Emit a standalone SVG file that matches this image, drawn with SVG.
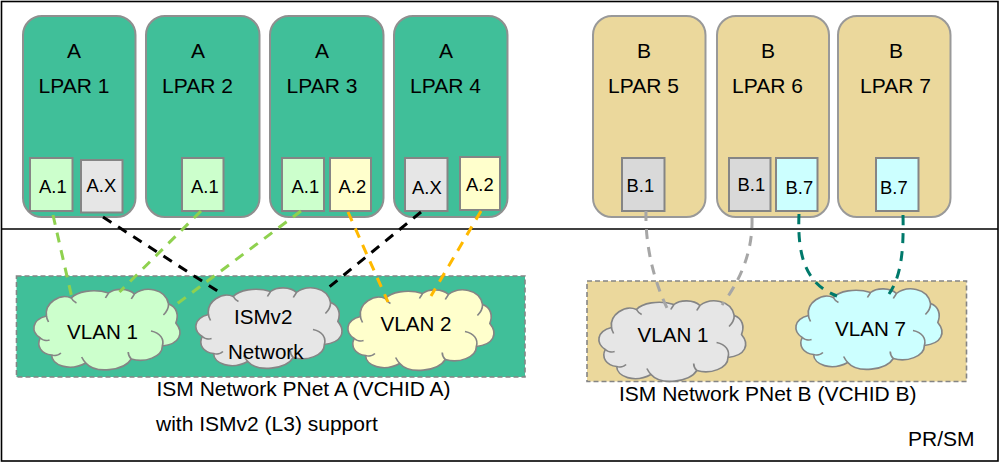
<svg xmlns="http://www.w3.org/2000/svg" xmlns:xlink="http://www.w3.org/1999/xlink" width="1002" height="464" viewBox="0 0 1002 464">
<style>
text{font-family:"Liberation Sans",Arial,sans-serif;fill:#000}
.lbl{font-size:21px}
.vl{font-size:20.6px}
.port{font-size:18.4px}
.cap{font-size:21px}
.lpA{fill:#40BF99;stroke:#8f8f8f;stroke-width:2}
.lpB{fill:#EBD89C;stroke:#999;stroke-width:2}
.pr{stroke:#858585;stroke-width:2}
.band{stroke:#858585;stroke-width:1.6;stroke-dasharray:5 3}
.cl{stroke:#858585;stroke-width:1.6;stroke-linejoin:round}
.in{fill:none}
.c{fill:none;stroke-width:3;stroke-dasharray:10 8}
</style>
<defs>
<g id="cloud">
<path d="M13,29 C11,16 26,6 37,11 C42,5 58,1 73,6 C79,1 92,1 98,7 C108,-1 128,1 131,17 C139,20 141,28 138,36 C146,46 142,57 125,59 C125,70 108,76 95,72 C88,84 60,87 51,76 C35,85 18,78 18,68 C8,67 3,59 7,51 C-2,45 -2,33 13,29 Z"/>
<path class="in" d="M125,59 C127,52 123,46 114,44 M95,72 C93,70 92,68 92,65 M51,76 C49,74 48,72 47,70 M18,68 C21,69 25,68 27,66 M7,51 C9,53 13,54 16,53 M13,29 C13,31 14,33 15,35 M37,11 C38,13 40,15 42,16 M73,6 C72,8 71,9 70,11 M98,7 C97,9 96,10 95,12 M131,17 C131,21 129,25 126,28"/>
</g>
</defs>
<rect width="1002" height="464" fill="#fff"/>
<g id="frame" fill="none" stroke="#000" stroke-width="1.6">
<rect x="1.5" y="1.5" width="996.500" height="459.500"/>
<path d="M1.5,229H998"/>
</g>
<g id="pnet-a"><rect class="band" x="16.500" y="276" width="508.500" height="101" fill="#40BF99"/></g>
<g id="pnet-b"><rect class="band" x="587" y="281" width="379.500" height="100.500" fill="#EBD89C"/></g>
<g id="lpar1"><rect class="lpA" x="23" y="16" width="112.500" height="201" rx="19"/><text class="lbl" x="67" y="57.500">A</text><text class="lbl" x="38.500" y="92.500">LPAR 1</text>
<rect class="pr" x="30" y="158" width="42.500" height="53" fill="#CCFFCC"/><text class="port" x="39" y="192.500">A.1</text>
<rect class="pr" x="81" y="160" width="41.500" height="52.500" fill="#E6E6E6"/><text class="port" x="86.500" y="191.500">A.X</text></g>
<g id="lpar2"><rect class="lpA" x="146" y="16" width="113.500" height="201" rx="19"/><text class="lbl" x="191" y="57.500">A</text><text class="lbl" x="162" y="92.500">LPAR 2</text>
<rect class="pr" x="182" y="158" width="41.500" height="53" fill="#CCFFCC"/><text class="port" x="191" y="192.500">A.1</text></g>
<g id="lpar3"><rect class="lpA" x="270" y="16" width="113.500" height="201" rx="19"/><text class="lbl" x="315" y="57.500">A</text><text class="lbl" x="286.500" y="92.500">LPAR 3</text>
<rect class="pr" x="282" y="158" width="42" height="53" fill="#CCFFCC"/><text class="port" x="291.500" y="193">A.1</text>
<rect class="pr" x="330" y="158" width="41" height="53" fill="#FFFFCC"/><text class="port" x="338.500" y="193">A.2</text></g>
<g id="lpar4"><rect class="lpA" x="394" y="16" width="113.500" height="201" rx="19"/><text class="lbl" x="439" y="57.500">A</text><text class="lbl" x="410" y="92.500">LPAR 4</text>
<rect class="pr" x="405" y="158" width="42.500" height="53" fill="#E6E6E6"/><text class="port" x="412" y="193.500">A.X</text>
<rect class="pr" x="460" y="157" width="40" height="53" fill="#FFFFCC"/><text class="port" x="466" y="191">A.2</text></g>
<g id="lpar5"><rect class="lpB" x="593" y="16" width="112.500" height="201" rx="19"/><text class="lbl" x="637" y="57.500">B</text><text class="lbl" x="608" y="92.500">LPAR 5</text>
<rect class="pr" x="622" y="158" width="42.500" height="53" fill="#D9D9D9"/><text class="port" x="626.500" y="191.500">B.1</text></g>
<g id="lpar6"><rect class="lpB" x="717" y="16" width="112" height="201" rx="19"/><text class="lbl" x="761" y="57.500">B</text><text class="lbl" x="732" y="92.500">LPAR 6</text>
<rect class="pr" x="729" y="158" width="41.500" height="53" fill="#D9D9D9"/><text class="port" x="737.500" y="191">B.1</text>
<rect class="pr" x="776" y="158" width="41.500" height="53" fill="#CCFFFF"/><text class="port" x="785.500" y="193.500">B.7</text></g>
<g id="lpar7"><rect class="lpB" x="838" y="16" width="112.500" height="201" rx="19"/><text class="lbl" x="889" y="57.500">B</text><text class="lbl" x="860" y="92.500">LPAR 7</text>
<rect class="pr" x="876" y="158" width="42.500" height="53" fill="#CCFFFF"/><text class="port" x="880" y="193.500">B.7</text></g>
<g id="a-vlan1"><use href="#cloud" class="cl" fill="#CCFFCC" transform="translate(33,287) scale(1.035,1)"/><text class="vl" x="67" y="339">VLAN 1</text></g>
<g id="a-ism"><use href="#cloud" class="cl" fill="#E6E6E6" transform="translate(195,285.500) scale(1.035,1)"/><text class="vl" x="234" y="323.500">ISMv2</text><text class="vl" x="228" y="359">Network</text></g>
<g id="a-vlan2"><use href="#cloud" class="cl" fill="#FFFFCC" transform="translate(347,287.500) scale(1.035,1)"/><text class="vl" x="380.500" y="330.500">VLAN 2</text></g>
<g id="b-vlan1"><use href="#cloud" class="cl" fill="#E6E6E6" transform="translate(598,298.500) scale(1.04,1)"/><text class="vl" x="637.500" y="341.500">VLAN 1</text></g>
<g id="b-vlan7"><use href="#cloud" class="cl" fill="#CCFFFF" transform="translate(795,286.500) scale(1.035,1)"/><text class="vl" x="835" y="335.500">VLAN 7</text></g>
<g id="connectors">
<path class="c" stroke="#8FD14F" d="M53,215L71.500,296"/>
<path class="c" stroke="#000" d="M103,217L219,292"/>
<path class="c" stroke="#8FD14F" d="M201,211L119.500,292"/>
<path class="c" stroke="#8FD14F" d="M301,211L175.500,305"/>
<path class="c" stroke="#FFB900" d="M348,212L388,302"/>
<path class="c" stroke="#000" d="M421,212L328,288"/>
<path class="c" stroke="#FFB900" d="M481,211L431,296"/>
<path class="c" stroke="#A6A6A6" d="M646,211C645,250 656,285 667,308"/>
<path class="c" stroke="#A6A6A6" d="M752,218C753,255 738,283 722,305"/>
<path class="c" stroke="#00796B" d="M799,214C797,260 808,285 837,296"/>
<path class="c" stroke="#00796B" d="M903,215C904,255 900,278 889,294"/>
</g>
<g id="captions">
<text class="cap" x="156.500" y="396">ISM Network PNet A (VCHID A)</text>
<text class="cap" x="156" y="430.500">with ISMv2 (L3) support</text>
<text class="cap" x="619" y="401">ISM Network PNet B (VCHID B)</text>
<text class="cap" x="908" y="445.500">PR/SM</text>
</g>
</svg>
